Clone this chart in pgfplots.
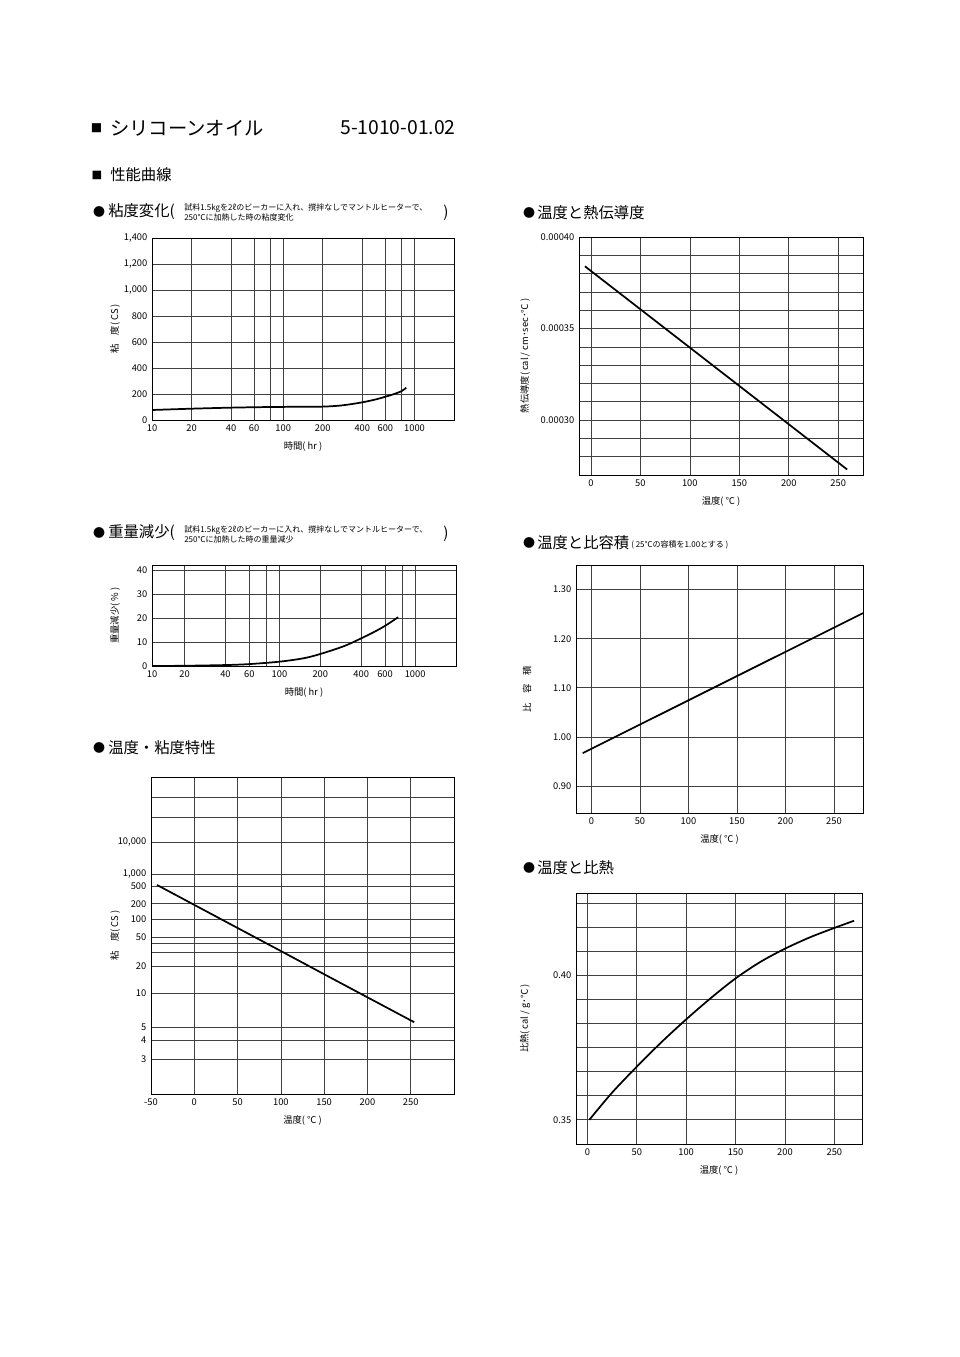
\documentclass[border=0pt]{standalone}
\usepackage{fontspec}
\setmainfont{Noto Sans CJK JP}
\usepackage{pgfplots}
\pgfplotsset{compat=1.18}
\pgfplotsset{
  sheet/.style={
    scale only axis,
    axis line style={black,line width=0.6pt},
    grid=major,
    major grid style={black!75,line width=0.45pt},
    major tick length=0pt, minor tick length=0pt,
    tick label style={font=\fontsize{7}{8}\selectfont},
    label style={font=\fontsize{7}{8}\selectfont},
    xlabel style={at={(axis description cs:0.5,0)},anchor=center,yshift=-19.5pt},
    /pgf/number format/assume math mode=true,
    scaled ticks=false,
  },
  curve/.style={black,line width=1.3pt,no marks},
}
\newcommand\astmfwd[1]{\begingroup\pgfkeys{/pgf/fpu=true,/pgf/fpu/output format=fixed}\pgfmathparse{log10(log10(#1+0.7))}\global\let\astmres\pgfmathresult\endgroup\let\pgfmathresult\astmres}
\newcommand\astminv[1]{\begingroup\pgfkeys{/pgf/fpu=true,/pgf/fpu/output format=fixed}\pgfmathparse{10^(10^(#1))-0.7}\global\let\astmres\pgfmathresult\endgroup\let\pgfmathresult\astmres}
\begin{document}
\begin{tikzpicture}
\path[use as bounding box, fill=white] (0,0) rectangle (720pt,-1017.75pt);

\begin{scope}[x=0.75pt,y=-0.75pt]
\node[inner sep=0,font=\fontsize{8.5}{9}\selectfont] at (96.5,128) {■};
\node[anchor=west,inner sep=0,font=\fontsize{14.5}{16}\selectfont] at (110,128) {シリコーンオイル};
\node[anchor=west,inner sep=0,font=\fontsize{14.5}{16}\selectfont] at (340,128) {5-1010-01.02};
\node[inner sep=0,font=\fontsize{8}{9}\selectfont] at (97,175) {■};
\node[anchor=west,inner sep=0,font=\fontsize{11.5}{13}\selectfont] at (110,175) {性能曲線};

\node[inner sep=0,font=\fontsize{9}{9}\selectfont] at (99,212) {●};
\node[anchor=west,inner sep=0,font=\fontsize{11.5}{13}\selectfont] at (108,212) {粘度変化(};
\node[anchor=west,inner sep=0,align=left,font=\fontsize{6}{8}\selectfont] at (184,212.5) {試料1.5kgを2ℓのビーカーに入れ、撹拌なしでマントルヒーターで、\\250℃に加熱した時の粘度変化};
\node[anchor=west,inner sep=0,font=\fontsize{11.5}{13}\selectfont] at (443,213) {)};

\node[inner sep=0,font=\fontsize{9}{9}\selectfont] at (99,533) {●};
\node[anchor=west,inner sep=0,font=\fontsize{11.5}{13}\selectfont] at (108,533) {重量減少(};
\node[anchor=west,inner sep=0,align=left,font=\fontsize{6}{8}\selectfont] at (184,534.5) {試料1.5kgを2ℓのビーカーに入れ、撹拌なしでマントルヒーターで、\\250℃に加熱した時の重量減少};
\node[anchor=west,inner sep=0,font=\fontsize{11.5}{13}\selectfont] at (443,534) {)};

\node[inner sep=0,font=\fontsize{9}{9}\selectfont] at (99,748) {●};
\node[anchor=west,inner sep=0,font=\fontsize{11.5}{13}\selectfont] at (108,748) {温度・粘度特性};

\node[inner sep=0,font=\fontsize{9}{9}\selectfont] at (529,213) {●};
\node[anchor=west,inner sep=0,font=\fontsize{11.5}{13}\selectfont] at (537,213) {温度と熱伝導度};

\node[inner sep=0,font=\fontsize{9}{9}\selectfont] at (529,543) {●};
\node[anchor=west,inner sep=0,font=\fontsize{11.5}{13}\selectfont] at (537,543) {温度と比容積};
\node[anchor=west,inner sep=0,font=\fontsize{6}{8}\selectfont] at (631,545) {( 25℃の容積を1.00とする )};

\node[inner sep=0,font=\fontsize{9}{9}\selectfont] at (529,868) {●};
\node[anchor=west,inner sep=0,font=\fontsize{11.5}{13}\selectfont] at (537,868) {温度と比熱};
\end{scope}

% Chart 1: viscosity change
\begin{axis}[sheet, at={(114pt,-315pt)}, anchor=south west,
  width=226.5pt, height=136.5pt,
  xmode=log, xmin=10, xmax=2000, ymin=0, ymax=1400,
  xtick={10,20,40,60,80,100,200,400,600,800,1000},
  xticklabels={10,20,40,60,,100,200,400,600,,1000},
  ytick={0,200,400,600,800,1000,1200,1400},
  yticklabels={0,200,400,600,800,{1,000},{1,200},{1,400}},
  xlabel={時間( hr )}, ylabel={粘　度( CS )},
  ylabel style={at={(axis description cs:0,0.5)},anchor=center,yshift=27.75pt}]
\addplot[curve, smooth] coordinates {(10,77) (20,87) (40,95) (80,100) (150,102) (200,103) (250,108) (300,116) (400,136) (500,157) (600,179) (700,200) (800,223) (865,248)};
\end{axis}

% Chart 2: thermal conductivity
\begin{axis}[sheet, at={(434.25pt,-356.25pt)}, anchor=south west,
  width=213pt, height=178.5pt,
  xmin=-12, xmax=275, ymin=0.00027, ymax=0.0004,
  xtick={0,50,100,150,200,250},
  ytick={0.00028,0.00029,0.00030,0.00031,0.00032,0.00033,0.00034,0.00035,0.00036,0.00037,0.00038,0.00039,0.00040},
  yticklabels={,,0.00030,,,,,0.00035,,,,,0.00040},
  xlabel={温度( ℃ )}, ylabel={熱伝導度( cal / cm･sec･℃ )},
  ylabel style={at={(axis description cs:0,0.5)},anchor=center,yshift=40.5pt}]
\addplot[curve] coordinates {(-6,0.000384) (259,0.000273)};
\end{axis}

% Chart 3: weight loss
\begin{axis}[sheet, at={(114pt,-499.5pt)}, anchor=south west,
  width=228pt, height=75.75pt,
  xmode=log, xmin=11.5, xmax=2000, ymin=0, ymax=42,
  xtick={11.5,20,40,60,80,100,200,400,600,800,1000},
  xticklabels={10,20,40,60,,100,200,400,600,,1000},
  ytick={0,10,20,30,40},
  xlabel={時間( hr )}, ylabel={重量減少( \% )},
  ylabel style={at={(axis description cs:0,0.5)},anchor=center,yshift=27.75pt}]
\addplot[curve, smooth] coordinates {(11.5,0) (20,0.1) (40,0.4) (60,0.8) (100,1.8) (150,3.2) (200,5.0) (300,8.3) (400,11.5) (500,14.2) (600,16.7) (750,20.3)};
\end{axis}

% Chart 4: specific volume
\begin{axis}[sheet, at={(432pt,-609.75pt)}, anchor=south west,
  width=215.25pt, height=186pt,
  xmin=-16, xmax=280, ymin=0.845, ymax=1.35,
  xtick={0,50,100,150,200,250},
  ytick={0.9,1.0,1.1,1.2,1.3},
  yticklabels={0.90,1.00,1.10,1.20,1.30},
  xlabel={温度( ℃ )}, ylabel={比　容　積},
  ylabel style={at={(axis description cs:0,0.5)},anchor=center,yshift=36.75pt}]
\addplot[curve] coordinates {(-9,0.967) (280,1.252)};
\end{axis}

% Chart 5: temperature-viscosity (ASTM scale)
\begin{axis}[sheet, at={(113.25pt,-820.5pt)}, anchor=south west,
  width=227.25pt, height=237.75pt,
  y coord trafo/.code={\astmfwd{#1}},
  y coord inv trafo/.code={\astminv{#1}},
  xmin=-50, xmax=300, ymin=1.9, ymax=16000000,
  xtick={-50,0,50,100,150,200,250},
  ytick={3,4,5,10,20,30,40,50,100,200,500,1000,10000,100000,1000000},
  yticklabels={3,4,5,10,20,,,50,100,200,500,{1,000},{10,000},,},
  xlabel={温度( ℃ )}, ylabel={粘　度( CS )},
  ylabel style={at={(axis description cs:0,0.5)},anchor=center,yshift=27pt}]
\addplot[curve] coordinates {(-43,530) (0,189) (50,70.2) (100,31.2) (150,15.9) (200,9.1) (254,5.5)};
\end{axis}

% Chart 6: specific heat
\begin{axis}[sheet, at={(432pt,-858pt)}, anchor=south west,
  width=214.5pt, height=188.25pt,
  xmin=-11.5, xmax=278, ymin=0.3416, ymax=0.4286,
  xtick={0,50,100,150,200,250},
  ytick={0.35,0.358333,0.366667,0.375,0.383333,0.391667,0.4,0.408333,0.416667,0.425},
  yticklabels={0.35,,,,,,0.40,,,},
  xlabel={温度( ℃ )}, ylabel={比熱( cal / g･℃ )},
  ylabel style={at={(axis description cs:0,0.5)},anchor=center,yshift=38.25pt}]
\addplot[curve, smooth] coordinates {(2,0.3500) (25,0.3594) (50,0.3684) (75,0.3769) (100,0.3848) (125,0.3922) (150,0.3990) (175,0.4047) (200,0.4093) (225,0.4132) (250,0.4165) (270,0.4190)};
\end{axis}
\end{tikzpicture}
\end{document}
